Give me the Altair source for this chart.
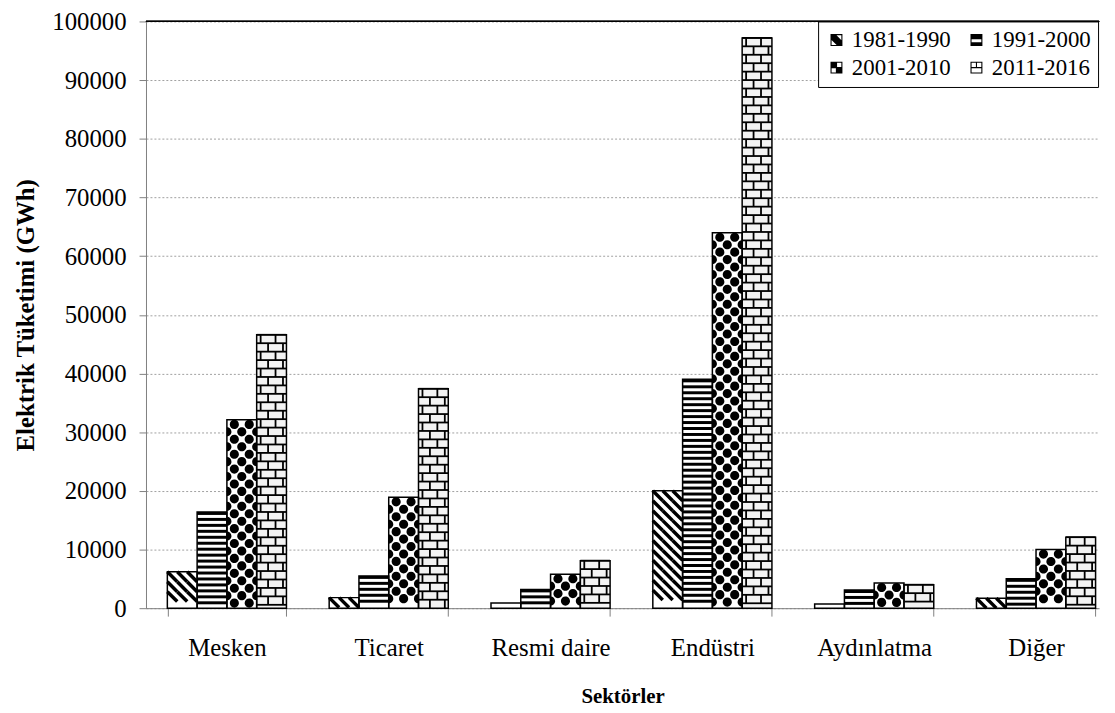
import altair as alt
import pandas as pd

# ---- data ----
sectors = ["Mesken", "Ticaret", "Resmi daire", "Endüstri", "Aydınlatma", "Diğer"]
periods = ["1981-1990", "1991-2000", "2001-2010", "2011-2016"]
v1981 = [6200, 1800, 900, 20000, 700, 1700]
v1991 = [16400, 5500, 3200, 39000, 3100, 5000]
v2001 = [32100, 18900, 5800, 64000, 4300, 10000]
v2011 = [46600, 37400, 8100, 97200, 4000, 12100]

rows = []
for i, s in enumerate(sectors):
    for p, vals in zip(periods, [v1981, v1991, v2001, v2011]):
        rows.append({"sector": s, "period": p, "value": vals[i]})
df = pd.DataFrame(rows)

# ---- layout / style ----
W, H = 960, 591
U = 100000 / H  # data units per pixel (for pattern spacing)
FONT = "Liberation Serif"

x_scale = alt.Scale(domain=sectors, paddingInner=0.264, paddingOuter=0.0767, align=0.86)
xo_scale = alt.Scale(domain=periods, paddingInner=0, paddingOuter=0)
y_scale = alt.Scale(domain=[0, 100000], nice=False, zero=True)

x_axis = alt.Axis(
    labelAngle=0, tickBand="extent", tickSize=8, tickColor="#808080",
    domainColor="#808080", labelFont=FONT, labelFontSize=25, labelColor="black",
    labelPadding=20, titleFont=FONT, titleFontSize=21, titleFontWeight="bold",
    titleColor="black", titlePadding=25, grid=False,
)
y_axis = alt.Axis(
    values=list(range(0, 100001, 10000)), format="d", tickSize=7,
    tickColor="#808080", domainColor="#808080", labelFont=FONT,
    labelFontSize=25, labelColor="black", labelPadding=13, titleFont=FONT,
    titleFontSize=25, titleFontWeight="bold", titleColor="black",
    titlePadding=13, grid=True, gridColor="#a0a0a0", gridDash=[2, 2],
)


def enc(chart, yfield):
    return chart.encode(
        x=alt.X("sector:N", scale=x_scale, axis=x_axis, title="Sektörler", sort=sectors),
        xOffset=alt.XOffset("period:N", scale=xo_scale, sort=periods),
        y=alt.Y(f"{yfield}:Q", scale=y_scale, axis=y_axis, title="Elektrik Tüketimi (GWh)"),
    )


def pattern(period, expr, path, **mk):
    c = (
        alt.Chart()
        .transform_filter(alt.datum.period == period)
        .transform_calculate(s=expr)
        .transform_flatten(["s"])
    )
    return enc(c.mark_point(shape=path, size=4, opacity=1, **mk), "s")


def circ(cx, r):
    return f"M{cx - r},0a{r},{r} 0 1,0 {2 * r},0a{r},{r} 0 1,0 {-2 * r},0Z"


R = 4.6
RS = 7.5  # dot row spacing (px)

# top frame line of the plot area
top_line = alt.Chart().mark_rule(color="black", strokeWidth=1).encode(
    y=alt.Y(datum=100000, scale=y_scale, axis=y_axis, title="Elektrik Tüketimi (GWh)")
)

base = enc(
    alt.Chart().transform_filter(alt.datum.period != periods[3]).mark_bar(fill="white"),
    "value",
)
base_brick = enc(
    alt.Chart().transform_filter(alt.datum.period == periods[3]).mark_bar(fill="#f3f3f3"),
    "value",
)

diag = pattern(
    periods[0],
    f"sequence(datum.value - {5 * U}, {5 * U - 1}, {-10 * U})",
    "M-15,-5L-5,5M-5,-5L5,5M5,-5L15,5",
    filled=False, stroke="black", strokeWidth=3.5, strokeCap="butt",
)
hstripe = pattern(
    periods[1],
    f"sequence(datum.value - {1.5 * U}, {1.5 * U - 1}, {-6 * U})",
    "M-15,0L15,0",
    filled=False, stroke="black", strokeWidth=3, strokeCap="butt",
)
dotsA = pattern(
    periods[2],
    f"sequence(datum.value - {R * U}, {R * U - 1}, {-2 * RS * U})",
    circ(-7.5, R) + circ(7.5, R),
    filled=True, color="black",
)
dotsB = pattern(
    periods[2],
    f"sequence(datum.value - {(R + RS) * U}, {R * U - 1}, {-2 * RS * U})",
    circ(0, R) + f"M-15,{-R}a{R},{R} 0 0,1 0,{2 * R}Z" + f"M15,{-R}a{R},{R} 0 0,0 0,{2 * R}Z",
    filled=True, color="black",
)
brickH = pattern(
    periods[3],
    f"sequence(datum.value, {0.5 * U}, {-8.5 * U})",
    "M-15,0L15,0",
    filled=False, stroke="black", strokeWidth=1.8, strokeCap="butt",
)
brickA = pattern(
    periods[3],
    f"sequence(datum.value - {4.25 * U}, {4.25 * U - 1}, {-17 * U})",
    "M-11,-4.25L-11,4.25M4,-4.25L4,4.25",
    filled=False, stroke="black", strokeWidth=1.8, strokeCap="butt",
)
brickB = pattern(
    periods[3],
    f"sequence(datum.value - {12.75 * U}, {4.25 * U - 1}, {-17 * U})",
    "M-3.5,-4.25L-3.5,4.25M11.5,-4.25L11.5,4.25",
    filled=False, stroke="black", strokeWidth=1.8, strokeCap="butt",
)

outline = enc(alt.Chart().mark_bar(fillOpacity=0, stroke="black", strokeWidth=1.5), "value")

# legend: icons drawn as small pattern-like glyphs (unit square paths)
FRAME = "M-1,-1H1V1H-1Z M-0.82,-0.82V0.82H0.82V-0.82Z "
icons = [
    FRAME + "M-1,-1L-0.2,-1L1,0.2L1,1L0.2,1L-1,-0.2Z",
    FRAME + "M-1,-1H1V-0.15H-1Z M-1,0.35H1V1H-1Z",
    FRAME + "M-1,-1H0.1V0.1H-1Z M-0.1,-0.1H1V1H-0.1Z",
    FRAME + "M-1,-0.09H1V0.09H-1Z M-0.09,-1H0.09V0H-0.09Z",
]
leg = alt.Legend(
    title=None, orient="none", legendX=677, legendY=0, columns=2,
    direction="horizontal",
    labelFont=FONT, labelFontSize=23, labelColor="black", labelLimit=0,
    symbolSize=144, symbolStrokeWidth=0, symbolOpacity=1,
    strokeColor="black", fillColor="white", padding=7, columnPadding=14,
    rowPadding=4, labelOffset=4,
)
legend_layer = enc(
    alt.Chart().transform_filter(alt.datum.value < 0).mark_point(filled=True, opacity=1),
    "value",
).encode(
    color=alt.Color("period:N", scale=alt.Scale(domain=periods, range=["black"] * 4), legend=leg),
    shape=alt.Shape("period:N", scale=alt.Scale(domain=periods, range=icons), legend=leg),
)

chart = (
    alt.layer(
        top_line, base, base_brick, diag, hstripe, dotsA, dotsB,
        brickH, brickA, brickB, outline, legend_layer, data=df,
    )
    .properties(
        width=W, height=H,
        autosize=alt.AutoSizeParams(type="none"),
        padding={"left": 139, "top": 11, "right": 8, "bottom": 100},
    )
    .configure(font=FONT)
    .configure_view(stroke=None)
)

chart.save("out.html", embed_options={"renderer": "svg", "actions": False})
